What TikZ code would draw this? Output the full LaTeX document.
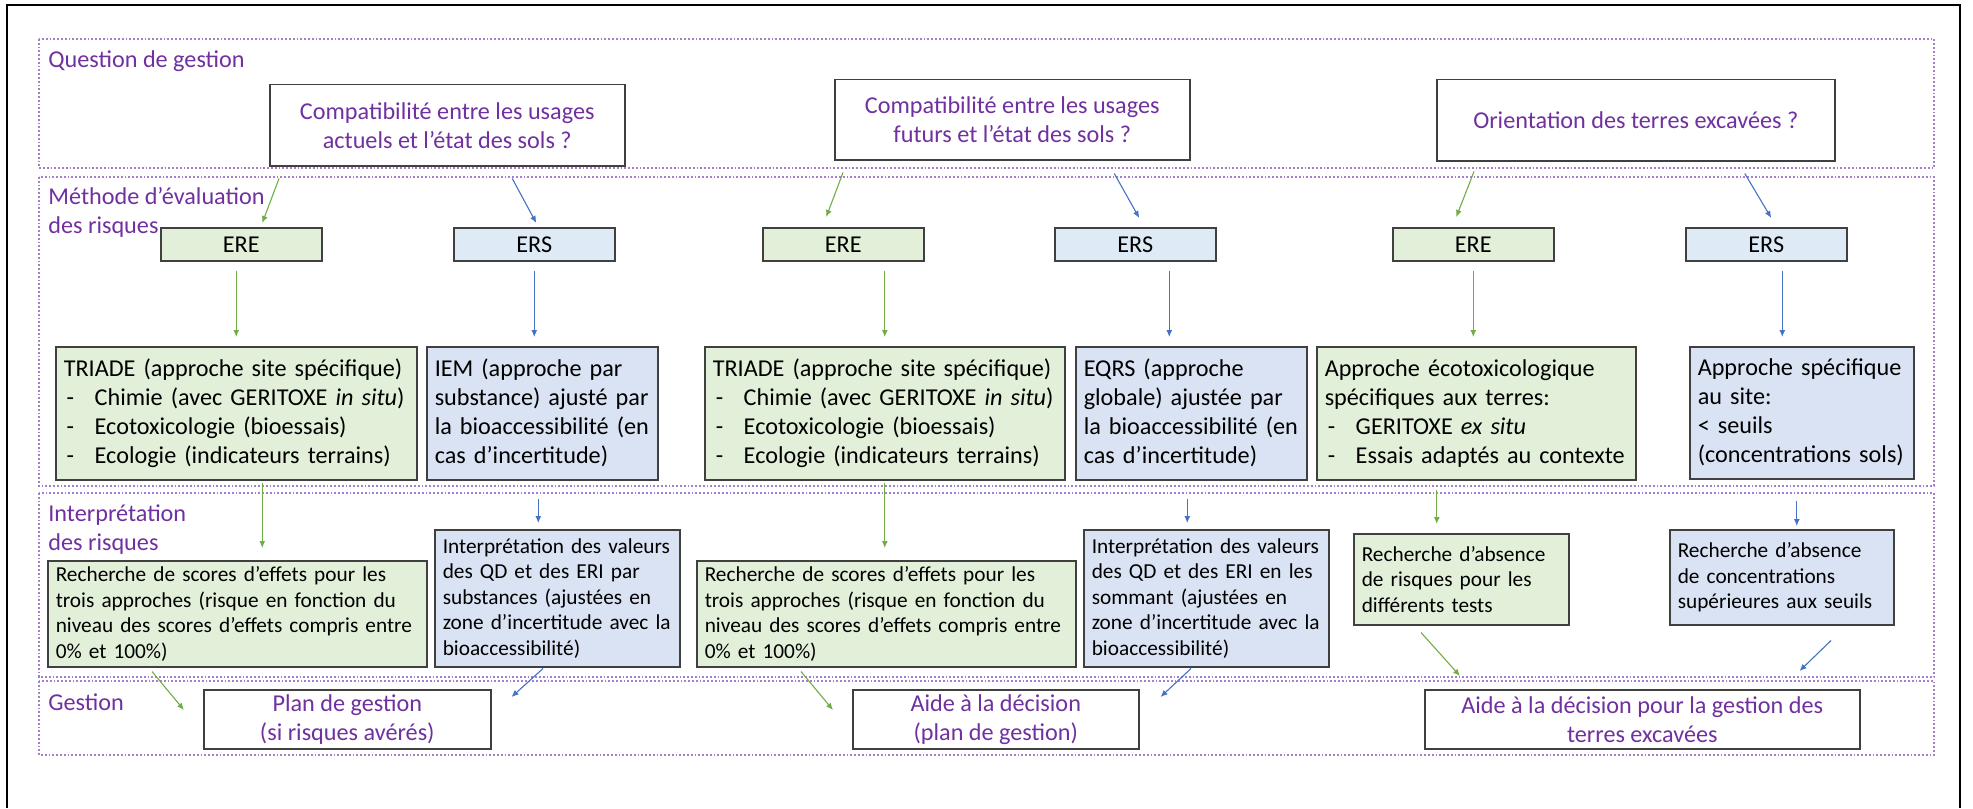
\documentclass[tikz,border=0pt]{standalone}
\usepackage{fontspec}
\setmainfont{Carlito}
\usepackage{xcolor}
\usepackage{tikz}
\usetikzlibrary{arrows.meta,positioning,calc}

\definecolor{violetq}{HTML}{7030A0}
\definecolor{lanecol}{HTML}{A47FCC}
\definecolor{boxline}{HTML}{404040}
\definecolor{fillg}{HTML}{E2F0D9}
\definecolor{fillb}{HTML}{DAE3F3}
\definecolor{fillbl}{HTML}{DEEBF7}
\definecolor{arrg}{HTML}{70AD47}
\definecolor{arrb}{HTML}{4472C4}

\newcommand{\bigtxt}{\fontsize{12.1}{14.5}\selectfont}
\newcommand{\smalltxt}{\fontsize{10.65}{12.75}\selectfont}
\newcommand{\tiret}{\makebox[15.5pt][l]{\hspace{1.5pt}-}}

\begin{document}
\begin{tikzpicture}[x=0.5pt, y=-0.5pt, >={Latex[length=3.5pt,width=3pt]},
  lane/.style={draw=lanecol, densely dotted, line width=0.9pt},
  lanelabel/.style={anchor=base west, inner sep=0pt, text=violetq, font=\bigtxt, align=left},
  qbox/.style={draw=boxline, line width=0.75pt, fill=white, anchor=north west, text=violetq, font=\bigtxt, align=center, inner sep=0pt},
  ere/.style={draw=boxline, line width=0.75pt, fill=fillg, anchor=north west, font=\bigtxt, minimum width=80.5pt, minimum height=16.5pt, inner sep=0pt},
  ers/.style={ere, fill=fillbl},
  detg/.style={draw=boxline, line width=0.75pt, fill=fillg, anchor=north west, font=\bigtxt, align=left, inner xsep=4pt, inner ysep=0pt},
  detb/.style={detg, fill=fillb},
  intg/.style={detg, font=\smalltxt},
  intb/.style={detb, font=\smalltxt},
  garr/.style={->, draw=arrg, line width=0.55pt},
  barr/.style={->, draw=arrb, line width=0.55pt},
  vgap/.style={shorten <=4.5pt, shorten >=4.5pt}]
\useasboundingbox (0,0) rectangle (1973,808);

% Outer frame (open at the bottom)
\draw[line width=1.2pt] (7,808) -- (7,5) -- (1960,5) -- (1960,808);

% Question de gestion
\draw[lane] (39,39) rectangle (1934,168);
\node[lanelabel] (lq) at (48,68) {Question de gestion};
\node[qbox, minimum width=177.5pt, minimum height=40.5pt] (q1) at (269,84) {Compatibilité entre les usages\\actuels et l'état des sols ?};
\node[qbox, minimum width=177.5pt, minimum height=40pt] (q2) at (834,79) {Compatibilité entre les usages\\futurs et l'état des sols ?};
\node[qbox, minimum width=199pt, minimum height=40.5pt] (q3) at (1436,79) {Orientation des terres excavées ?};

% Methode d'evaluation des risques
\draw[lane] (39,177) rectangle (1934,486);
\node[lanelabel] (lm) at (48,233) {Méthode d'évaluation\\des risques};
\node[ere] (ere1) at (160,227) {ERE};
\node[ers] (ers1) at (453,227) {ERS};
\node[ere] (ere2) at (762,227) {ERE};
\node[ers] (ers2) at (1054,227) {ERS};
\node[ere] (ere3) at (1392,227) {ERE};
\node[ers] (ers3) at (1685,227) {ERS};

\node[detg, text width=172.5pt, minimum height=66.5pt] (triade1) at (55,346) {TRIADE (approche site spécifique)\\\tiret Chimie (avec GERITOXE \textit{in situ})\\\tiret Ecotoxicologie (bioessais)\\\tiret Ecologie (indicateurs terrains)};
\node[detb, text width=107.5pt, minimum height=66.5pt] (iem) at (426,346) {IEM (approche par\\substance) ajusté par\\la bioaccessibilité (en\\cas d'incertitude)};
\node[detg, text width=172pt, minimum height=66.5pt] (triade2) at (704,346) {TRIADE (approche site spécifique)\\\tiret Chimie (avec GERITOXE \textit{in situ})\\\tiret Ecotoxicologie (bioessais)\\\tiret Ecologie (indicateurs terrains)};
\node[detb, text width=107.5pt, minimum height=66.5pt] (eqrs) at (1075,346) {EQRS (approche\\globale) ajustée par\\la bioaccessibilité (en\\cas d'incertitude)};
\node[detg, text width=151.5pt, minimum height=66.5pt] (ecotox) at (1316,346) {Approche écotoxicologique\\spécifiques aux terres:\\\tiret GERITOXE \textit{ex situ}\\\tiret Essais adaptés au contexte};
\node[detb, text width=104pt, minimum height=66pt] (spec) at (1689,346) {Approche spécifique\\au site:\\< seuils\\(concentrations sols)};

% Interpretation des risques
\draw[lane] (39,493) rectangle (1934,677);
\node[lanelabel] (li) at (48,550) {Interprétation\\des risques};
\node[intg, text width=181.5pt, minimum height=53pt] (rs1) at (47,560) {Recherche de scores d'effets pour les\\trois approches (risque en fonction du\\niveau des scores d'effets compris entre\\0\% et 100\%)};
\node[intb, text width=114.5pt, minimum height=68.5pt] (iv1) at (434,529) {Interprétation des valeurs\\des QD et des ERI par\\substances (ajustées en\\zone d'incertitude avec la\\bioaccessibilité)};
\node[intg, text width=181.5pt, minimum height=53pt] (rs2) at (696,560) {Recherche de scores d'effets pour les\\trois approches (risque en fonction du\\niveau des scores d'effets compris entre\\0\% et 100\%)};
\node[intb, text width=114.5pt, minimum height=68.5pt] (iv2) at (1083,529) {Interprétation des valeurs\\des QD et des ERI en les\\sommant (ajustées en\\zone d'incertitude avec la\\bioaccessibilité)};
\node[intg, text width=99.5pt, minimum height=45.5pt] (ra1) at (1353,533) {Recherche d'absence\\de risques pour les\\différents tests};
\node[intb, text width=104pt, minimum height=47.5pt] (ra2) at (1669,529) {Recherche d'absence\\de concentrations\\supérieures aux seuils};

% Gestion
\draw[lane] (39,681) rectangle (1934,755);
\node[lanelabel] (lg) at (48,710) {Gestion};
\node[qbox, minimum width=143.5pt, minimum height=29.5pt] (plan) at (203,689) {Plan de gestion\\(si risques avérés)};
\node[qbox, minimum width=143pt, minimum height=29.5pt] (aide) at (852,689) {Aide à la décision\\(plan de gestion)};
\node[qbox, minimum width=217.5pt, minimum height=29.5pt] (aide2) at (1424,689) {Aide à la décision pour la gestion des\\terres excavées};

% Question -> methode
\draw[garr] ([shift={(10,12)}]q1.south west) -- ([shift={(21,-4)}]ere1.north);
\draw[barr] ([shift={(65,12)}]q1.south) -- ([shift={(2,-4)}]ers1.north);
\draw[garr] ([shift={(9,12)}]q2.south west) -- ([shift={(-17,-10)}]ere2.north);
\draw[barr] ([shift={(102,13)}]q2.south) -- ([shift={(4,-9)}]ers2.north);
\draw[garr] ([shift={(38,10)}]q3.south west) -- ([shift={(-17,-10)}]ere3.north);
\draw[barr] ([shift={(109,12)}]q3.south) -- ([shift={(5,-9)}]ers3.north);

% Methode -> approches
\draw[garr, vgap] (triade1.north |- ere1.south) -- (triade1.north);
\draw[barr, vgap] (ers1.south) -- (ers1.south |- iem.north);
\draw[garr, vgap] (triade2.north |- ere2.south) -- (triade2.north);
\draw[barr, vgap] ([xshift=17pt]ers2.south) -- ([xshift=17pt]ers2.south |- eqrs.north);
\draw[garr, vgap] (ere3.south) -- (ere3.south |- ecotox.north);
\draw[barr, vgap] ([xshift=8pt]ers3.south) -- ([xshift=8pt]ers3.south |- spec.north);

% Approches -> interpretation
\draw[garr, shorten <=1pt, shorten >=6pt] ([xshift=13pt]triade1.south) -- ([xshift=13pt]triade1.south |- rs1.north);
\draw[barr, shorten <=9pt, shorten >=3pt] ([xshift=-2pt]iem.south) -- ([xshift=-2pt]iem.south |- iv1.north);
\draw[garr, shorten <=1pt, shorten >=6pt] (triade2.south) -- (triade2.south |- rs2.north);
\draw[barr, shorten <=9pt, shorten >=3pt] ([xshift=-2pt]eqrs.south) -- ([xshift=-2pt]eqrs.south |- iv2.north);
\draw[garr, shorten <=4.5pt, shorten >=4.5pt] ([xshift=-19.75pt]ecotox.south) -- ([xshift=-19.75pt]ecotox.south |- ra1.north);
\draw[barr, shorten <=10.5pt, shorten >=1.5pt] ([xshift=-2.5pt]spec.south) -- ([xshift=-2.5pt]spec.south |- ra2.north);

% Interpretation -> gestion
\draw[garr] ([shift={(105,4)}]rs1.south west) -- ([shift={(-19,21)}]plan.north west);
\draw[barr] ([shift={(109,1)}]iv1.south west) -- ([shift={(20,8)}]plan.north east);
\draw[garr] ([shift={(105,4)}]rs2.south west) -- ([shift={(-19,21)}]aide.north west);
\draw[barr] ([shift={(108,1)}]iv2.south west) -- ([shift={(21,8)}]aide.north east);
\draw[garr] ([shift={(68,7)}]ra1.south west) -- ([shift={(36,-13)}]aide2.north west);
\draw[barr] ([shift={(162,15)}]ra2.south west) -- ([shift={(-61,-18)}]aide2.north east);
\end{tikzpicture}
\end{document}
